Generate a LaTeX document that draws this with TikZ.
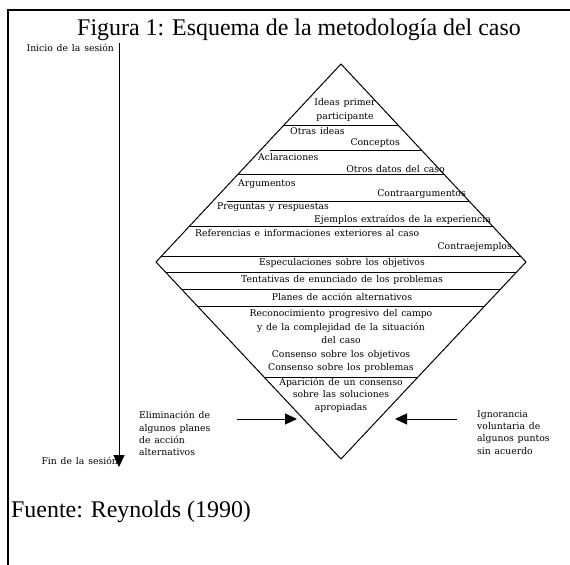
\documentclass[tikz,border=0pt]{standalone}
\usepackage{fontspec}
\setmainfont{Liberation Serif}
\newfontfamily\rombofont[WordSpace={1.3}]{DejaVu Serif}
\usetikzlibrary{arrows.meta}
\tikzset{
  txt/.style={inner sep=0pt,align=center,font=\rombofont\fontsize{9.3}{13.6}\selectfont},
  etiq/.style={inner sep=0pt,align=left,font=\rombofont\fontsize{9.3}{12.5}\selectfont},
  grande/.style={inner sep=0pt,font=\fontsize{24}{28}\selectfont},
  flecha/.style={-{Triangle[length=12bp,width=11bp]},line width=1bp}
}
\begin{document}
\begin{tikzpicture}[x=1bp,y=-1bp]
\useasboundingbox (0,0) rectangle (570,565);
\draw[line width=1.6bp](8,565) -- (8,10) -- (570,10);
\node[grande,anchor=base](titulo) at (299,36){Figura 1: Esquema de la metodología del caso};
\node[grande,anchor=base west](fuente) at (11,517){Fuente: Reynolds (1990)};
% eje de la sesion
\node[etiq,anchor=east](inicio) at (114,48){Inicio de la sesión};
\node[etiq,anchor=east](fin) at (118,461){Fin de la sesión};
\coordinate (ini) at (119,43);
\coordinate (fi) at (119,467);
\draw[flecha](ini) -- (fi);
% rombo
\coordinate (arriba) at (341,64);
\coordinate (der) at (526,262);
\coordinate (abajo) at (341,459);
\coordinate (izq) at (156,262);
\draw[line width=1bp](arriba) -- (der) -- (abajo) -- (izq) -- cycle;
\begin{scope}
\clip (arriba) -- (der) -- (abajo) -- (izq) -- cycle;
\foreach \y in {125,174,226,256,272,289,306,377}{
\draw[line width=.9bp](150,\y) -- (530,\y);
}
\draw[line width=.9bp](270,150) -- (530,150);
\draw[line width=.9bp](227,201) -- (530,201);
\end{scope}
% textos del rombo
\node[txt](ideas) at (345,110){Ideas primer\\participante};
\node[txt,anchor=west](otras) at (290,131){Otras ideas};
\node[txt,anchor=east](conceptos) at (400,143){Conceptos};
\node[txt,anchor=west](aclar) at (258,157){Aclaraciones};
\node[txt,anchor=east](datos) at (445,169){Otros datos del caso};
\node[txt,anchor=west](arg) at (238,184){Argumentos};
\node[txt,anchor=east](contraarg) at (466,194){Contraargumentos};
\node[txt,anchor=west](preg) at (217,207){Preguntas y respuestas};
\node[txt,anchor=east](ejemplos) at (491,220){Ejemplos extraídos de la experiencia};
\node[txt,anchor=west](refer) at (195,233){Referencias e informaciones exteriores al caso};
\node[txt,anchor=east](contraej) at (512,247){Contraejemplos};
\node[txt](especul) at (342,263){Especulaciones sobre los objetivos};
\node[txt](tentat) at (342,280){Tentativas de enunciado de los problemas};
\node[txt](planes) at (342,297){Planes de acción alternativos};
\node[txt](recon) at (341,341){Reconocimiento progresivo del campo\\y de la complejidad de la situación\\del caso\\Consenso sobre los objetivos\\Consenso sobre los problemas};
\node[etiq,align=center](aparic) at (341,395){Aparición de un consenso\\sobre las soluciones\\apropiadas};
% flechas laterales
\node[etiq,anchor=north west](elim) at (139,411){Eliminación de\\algunos planes\\de acción\\alternativos};
\node[etiq,anchor=north west](ignor) at (477,410){Ignorancia\\voluntaria de\\algunos puntos\\sin acuerdo};
\coordinate (e1) at (237,419);
\coordinate (e2) at (297,419);
\coordinate (i1) at (457,419);
\coordinate (i2) at (395,419);
\draw[flecha](e1) -- (e2);
\draw[flecha](i1) -- (i2);
\end{tikzpicture}
\end{document}
